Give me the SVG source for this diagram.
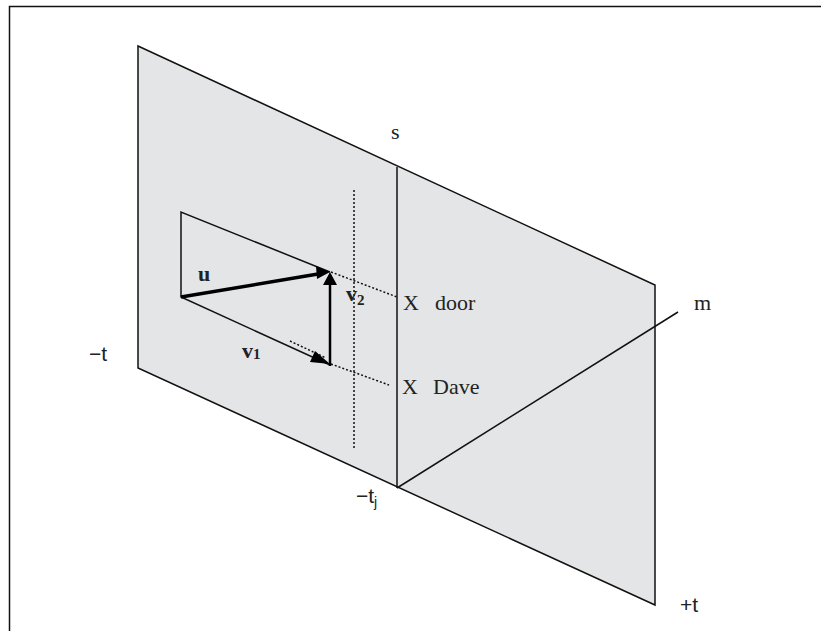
<svg xmlns="http://www.w3.org/2000/svg" width="821" height="631" viewBox="0 0 821 631">
<defs>
<style>
.ln{stroke:#111;stroke-width:1.5;fill:none}
.pl{stroke:#111;stroke-width:1.5;fill:#e3e5e6}
.dot{stroke:#111;stroke-width:1.5;fill:none;stroke-dasharray:2 2}
.t{font-family:"Liberation Serif",serif;font-size:22px;fill:#222}
.s{font-family:"Liberation Sans",sans-serif;font-size:21px;fill:#222}
.b{font-family:"Liberation Serif",serif;font-size:22px;font-weight:bold;fill:#222}
</style>
</defs>
<rect x="0" y="0" width="821" height="631" fill="#fff"/>
<rect x="9.5" y="6.5" width="830" height="640" fill="none" stroke="#111" stroke-width="1.5"/>
<g id="plane">
<polygon points="138,46 655,285 655,605 138,368" class="pl"/>
<line x1="397" y1="167" x2="397" y2="488" class="ln"/>
<line x1="397" y1="488" x2="678" y2="312" class="ln"/>
</g>
<g id="triangle">
<polyline points="330,272 181,212 181,297 330,365" class="ln"/>
</g>
<g id="connectors">
<line x1="354" y1="190" x2="354" y2="450" class="dot"/>
<line x1="331" y1="272" x2="397" y2="297" class="dot"/>
<line x1="331" y1="364" x2="389" y2="385" class="dot"/>
<line x1="290" y1="341" x2="326" y2="358" class="dot"/>
<line x1="181" y1="297" x2="318" y2="274" stroke="#000" stroke-width="3.5" fill="none"/>
<polygon points="330,272 317,279 316,266" fill="#000"/>
<polygon points="330,364 315,351 310,362" fill="#000"/>
<line x1="330" y1="366" x2="330" y2="284" stroke="#000" stroke-width="2.5"/>
<polygon points="330,272 323,285 337,285" fill="#000"/>
</g>
<g id="labels">
<text x="391" y="139" class="t">s</text>
<text x="403" y="310" class="t">X</text>
<text x="435" y="310" class="t">door</text>
<text x="402" y="394" class="t">X</text>
<text x="433" y="394" class="t">Dave</text>
<text x="694" y="310" class="t">m</text>
<text x="89" y="361" class="s">−t</text>
<text x="680" y="612" class="s">+t</text>
<text x="356" y="503" class="s">−t<tspan font-size="14" dy="4">j</tspan></text>
<text x="198" y="281" class="b">u</text>
<text x="242" y="358" class="b">v<tspan font-size="15" dy="1">1</tspan></text>
<text x="346" y="301" class="b">v<tspan font-size="15" dy="4">2</tspan></text>
</g>
</svg>
